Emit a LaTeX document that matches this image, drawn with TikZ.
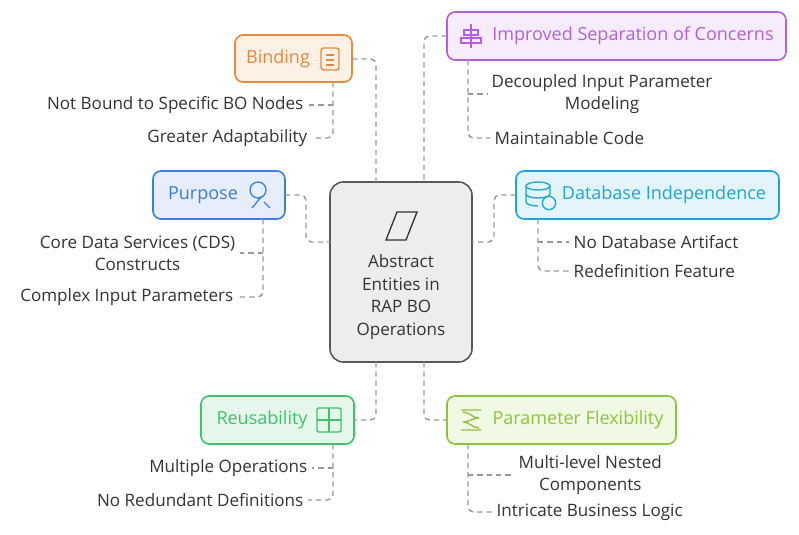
\documentclass[tikz,border=0pt]{standalone}
\usepackage{fontspec}
\setmainfont{Open Sans}
\begin{document}
\begin{tikzpicture}[x=0.75pt,y=-0.75pt,
 box/.style={draw,rounded corners=6pt,line width=1.2pt},
 lbl/.style={font=\fontsize{13.5}{16}\selectfont},
 itm/.style={font=\fontsize{12.8}{16.5}\selectfont,text=black!80,align=center},
 conn/.style={draw=gray!80,line width=1.1pt,dash pattern=on 4pt off 3pt,rounded corners=4pt}]
\definecolor{oo}{HTML}{E8883A}\definecolor{ofill}{HTML}{FDF0E4}
\definecolor{pp}{HTML}{B45EE0}\definecolor{pfill}{HTML}{F6ECFC}
\definecolor{bb}{HTML}{3B7DE8}\definecolor{bfill}{HTML}{E6EEFC}
\definecolor{cc}{HTML}{1AA6D8}\definecolor{cfill}{HTML}{E3F5FB}
\definecolor{gg}{HTML}{3EC36B}\definecolor{gfill}{HTML}{E5F7EA}
\definecolor{yy}{HTML}{8CC43C}\definecolor{yfill}{HTML}{F1F8E3}
\useasboundingbox (0,0) rectangle (799,535);
% center
\draw[box,draw=black!65,fill=black!7,rounded corners=10pt] (330,182) rectangle (472,362);
\draw[line width=1pt,black!80] (386,240)--(397,212)--(417,212)--(406,240)--cycle;
\node[itm,align=center,font=\fontsize{12.8}{17}\selectfont] (ct) at (401,297) {Abstract\\Entities in\\RAP BO\\Operations};
% boxes
\draw[box,draw=oo,fill=ofill] (235,35) rectangle (352,82);
\node[lbl,text=oo] (bind) at (278,59) {Binding};
\draw[oo,line width=1pt,rounded corners=2pt] (321,48) rectangle (339,70);
\draw[oo,line width=0.8pt] (326,55)--(334,55) (326,60)--(334,60) (326,65)--(334,65);
\draw[box,draw=pp,fill=pfill] (447,12) rectangle (786,60);
\node[lbl,text=pp] (sep) at (633,36) {Improved Separation of Concerns};
\draw[pp,line width=1pt] (471,24)--(471,48) (464,30) rectangle (478,35) (461,38) rectangle (481,43);
\draw[box,draw=bb,fill=bfill] (153,171) rectangle (285,219);
\node[lbl,text=bb] (pur) at (203,195) {Purpose};
\draw[bb,line width=1pt] (258,190) circle (6pt) (252,208)--(262,196) (264,202)--(270,208);
\draw[box,draw=cc,fill=cfill] (516,171) rectangle (779,219);
\node[lbl,text=cc] (db) at (664,195) {Database Independence};
\draw[cc,line width=1pt] (538,186) ellipse (9pt and 3pt) (526,186)--(526,202) (550,186)--(550,194) (526,194) arc (180:360:9pt and 3pt) (526,202) arc(180:270:9pt and 3pt);
\draw[cc,line width=1pt,fill=cfill] (549,203) circle (5pt);
\draw[box,draw=gg,fill=gfill] (201,396) rectangle (354,444);
\node[lbl,text=gg] (reu) at (262,420) {Reusability};
\draw[gg,line width=1pt,rounded corners=1pt] (317,408) rectangle (341,432); \draw[gg,line width=1pt] (329,408)--(329,432) (317,420)--(341,420);
\draw[box,draw=yy,fill=yfill] (447,396) rectangle (676,444);
\node[lbl,text=yy] (par) at (578,420) {Parameter Flexibility};
\draw[yy,line width=1pt] (461,410)--(481,410) (461,430)--(481,430) (463,412) to[out=0,in=180] (479,418) (479,418) to[out=180,in=0] (463,422) (463,422) to[out=0,in=180] (479,428);
% connectors main
\draw[conn] (352,59)--(376,59)--(376,182);
\draw[conn] (447,36)--(424,36)--(424,182);
\draw[conn] (285,195)--(306,195)--(306,242)--(330,242);
\draw[conn] (516,195)--(494,195)--(494,242)--(472,242);
\draw[conn] (376,362)--(376,420)--(354,420);
\draw[conn] (424,362)--(424,420)--(447,420);
% items
\node[itm,anchor=east] (b1) at (308,105) {Not Bound to Specific BO Nodes};
\node[itm,anchor=east] (b2) at (312,138) {Greater Adaptability};
\draw[conn] (333,82)--(333,138)--(b2.east); \draw[conn] (333,105)--(b1.east);
\node[itm,anchor=west] (s1) at (487,94) {Decoupled Input Parameter\\Modeling};
\node[itm,anchor=west] (s2) at (490,138) {Maintainable Code};
\draw[conn] (468,60)--(468,138)--(s2.west); \draw[conn] (468,94)--(s1.west);
\node[itm,anchor=east] (p1) at (240,253) {Core Data Services (CDS)\\Constructs};
\node[itm,anchor=east] (p2) at (238,297) {Complex Input Parameters};
\draw[conn] (263,219)--(263,297)--(p2.east); \draw[conn] (263,253)--(p1.east);
\node[itm,anchor=west] (d1) at (569,242) {No Database Artifact};
\node[itm,anchor=west] (d2) at (569,271) {Redefinition Feature};
\draw[conn] (538,219)--(538,271)--(d2.west); \draw[conn] (538,242)--(d1.west);
\node[itm,anchor=east] (r1) at (312,468) {Multiple Operations};
\node[itm,anchor=east] (r2) at (308,500) {No Redundant Definitions};
\draw[conn] (333,444)--(333,500)--(r2.east); \draw[conn] (333,468)--(r1.east);
\node[itm,anchor=west] (f1) at (514,475) {Multi-level Nested\\Components};
\node[itm,anchor=west] (f2) at (492,512) {Intricate Business Logic};
\draw[conn] (468,444)--(468,512)--(f2.west); \draw[conn] (468,475)--(f1.west);
\end{tikzpicture}
\end{document}
